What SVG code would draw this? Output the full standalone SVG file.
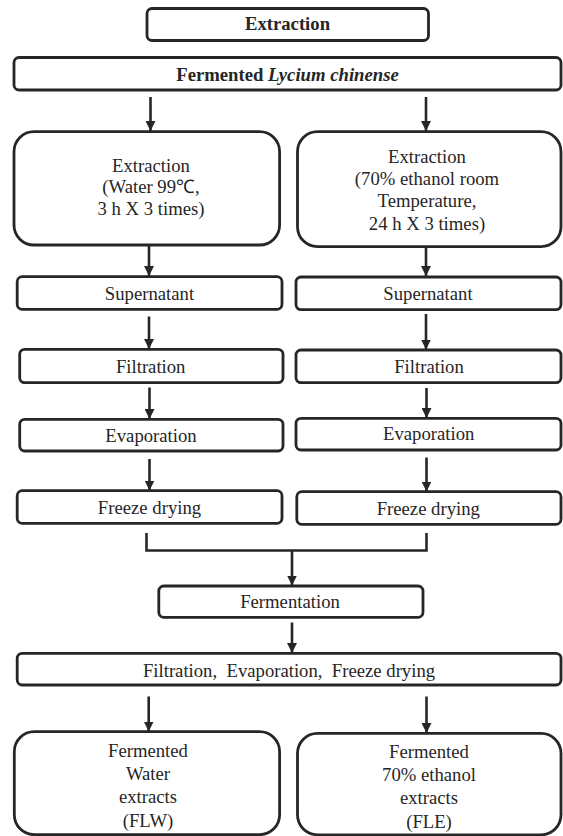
<svg xmlns="http://www.w3.org/2000/svg" width="563" height="836" viewBox="0 0 563 836" font-family="Liberation Serif, Times New Roman, DejaVu Serif, serif">
<defs>
<style>
.box{fill:#fff;stroke:#262626;stroke-width:2.8}
.t{font-size:18.7px;fill:#262626;text-anchor:middle}
.b{font-weight:bold}
.c{fill:none;stroke:#262626;stroke-width:2.6}
</style>
<marker id="ah" markerUnits="userSpaceOnUse" markerWidth="12" markerHeight="10" refX="10" refY="5" orient="auto">
<path d="M0,0 L10,5 L0,10 Z" fill="#262626"/>
</marker>
</defs>

<g id="connectors">
<line class="c" x1="150.5" y1="97" x2="150.5" y2="131" marker-end="url(#ah)"/>
<line class="c" x1="426" y1="97" x2="426" y2="131" marker-end="url(#ah)"/>
<line class="c" x1="149" y1="245" x2="149" y2="276" marker-end="url(#ah)"/>
<line class="c" x1="426" y1="248" x2="426" y2="276" marker-end="url(#ah)"/>
<line class="c" x1="149" y1="316.5" x2="149" y2="349" marker-end="url(#ah)"/>
<line class="c" x1="426" y1="314" x2="426" y2="349.5" marker-end="url(#ah)"/>
<line class="c" x1="149.5" y1="387.5" x2="149.5" y2="419" marker-end="url(#ah)"/>
<line class="c" x1="426.5" y1="388" x2="426.5" y2="418" marker-end="url(#ah)"/>
<line class="c" x1="149.5" y1="459" x2="149.5" y2="490.5" marker-end="url(#ah)"/>
<line class="c" x1="426.5" y1="457.5" x2="426.5" y2="491.5" marker-end="url(#ah)"/>
<path class="c" d="M146.5,533 V550.5 H426.5 V533"/>
<line class="c" x1="292" y1="551" x2="292" y2="585.5" marker-end="url(#ah)"/>
<line class="c" x1="292" y1="622.5" x2="292" y2="653" marker-end="url(#ah)"/>
<line class="c" x1="148.7" y1="696.5" x2="148.7" y2="731.5" marker-end="url(#ah)"/>
<line class="c" x1="426.5" y1="696.5" x2="426.5" y2="733" marker-end="url(#ah)"/>
</g>

<g id="n-extraction-title">
<rect class="box" x="147" y="8.5" width="281.5" height="32" rx="5"/>
<text class="t b" x="287.5" y="30" font-family="Liberation Serif, serif">Extraction</text>
</g>

<g id="n-fermented-lycium">
<rect class="box" x="14" y="57.5" width="547" height="32.5" rx="5"/>
<text class="t b" x="287.5" y="80.5" font-family="Liberation Serif, serif">Fermented <tspan font-style="italic">Lycium chinense</tspan></text>
</g>

<g id="n-extraction-water">
<rect class="box" x="14" y="131.7" width="265.6" height="113.3" rx="20"/>
<text class="t" x="151" y="171.7" font-family="Liberation Serif, serif">Extraction</text>
<text class="t" x="151" y="193.3" font-family="Liberation Serif, serif">(Water 99℃,</text>
<text class="t" x="151" y="215" font-family="Liberation Serif, serif">3 h X 3 times)</text>
</g>

<g id="n-extraction-ethanol">
<rect class="box" x="297.5" y="131.7" width="263.5" height="115" rx="20"/>
<text class="t" x="427" y="163.3" font-family="Liberation Serif, serif">Extraction</text>
<text class="t" x="427" y="185" font-family="Liberation Serif, serif">(70% ethanol room</text>
<text class="t" x="427" y="206.7" font-family="Liberation Serif, serif">Temperature,</text>
<text class="t" x="427" y="230" font-family="Liberation Serif, serif">24 h X 3 times)</text>
</g>

<g id="n-supernatant-left">
<rect class="box" x="17.2" y="276.7" width="264.8" height="32.6" rx="5"/>
<text class="t" x="149.5" y="300" font-family="Liberation Serif, serif">Supernatant</text>
</g>
<g id="n-supernatant-right">
<rect class="box" x="296" y="277" width="265" height="32.6" rx="5"/>
<text class="t" x="428" y="300" font-family="Liberation Serif, serif">Supernatant</text>
</g>

<g id="n-filtration-left">
<rect class="box" x="19.7" y="349.3" width="263.3" height="33.4" rx="5"/>
<text class="t" x="150.7" y="372.7" font-family="Liberation Serif, serif">Filtration</text>
</g>
<g id="n-filtration-right">
<rect class="box" x="296" y="350" width="265" height="32.7" rx="5"/>
<text class="t" x="429" y="372.7" font-family="Liberation Serif, serif">Filtration</text>
</g>

<g id="n-evaporation-left">
<rect class="box" x="19.7" y="419.3" width="263.3" height="31.7" rx="5"/>
<text class="t" x="151" y="441.7" font-family="Liberation Serif, serif">Evaporation</text>
</g>
<g id="n-evaporation-right">
<rect class="box" x="296" y="418.3" width="265" height="31.7" rx="5"/>
<text class="t" x="428.7" y="440" font-family="Liberation Serif, serif">Evaporation</text>
</g>

<g id="n-freeze-left">
<rect class="box" x="17.2" y="490.7" width="264.8" height="32.6" rx="5"/>
<text class="t" x="149.5" y="514" font-family="Liberation Serif, serif">Freeze drying</text>
</g>
<g id="n-freeze-right">
<rect class="box" x="296.8" y="491.7" width="264.2" height="32.6" rx="5"/>
<text class="t" x="428.3" y="514.5" font-family="Liberation Serif, serif">Freeze drying</text>
</g>

<g id="n-fermentation">
<rect class="box" x="158.8" y="586" width="264.2" height="31.3" rx="5"/>
<text class="t" x="290" y="608.3" font-family="Liberation Serif, serif">Fermentation</text>
</g>

<g id="n-filt-evap-freeze">
<rect class="box" x="17.2" y="653.3" width="543.8" height="31.7" rx="5"/>
<text class="t" x="289" y="676.7" xml:space="preserve" font-family="Liberation Serif, serif">Filtration,  Evaporation,  Freeze drying</text>
</g>

<g id="n-flw">
<rect class="box" x="14.3" y="731.7" width="265.3" height="103" rx="20"/>
<text class="t" x="148" y="756.7" font-family="Liberation Serif, serif">Fermented</text>
<text class="t" x="148" y="780" font-family="Liberation Serif, serif">Water</text>
<text class="t" x="148" y="803.3" font-family="Liberation Serif, serif">extracts</text>
<text class="t" x="148" y="826.7" font-family="Liberation Serif, serif">(FLW)</text>
</g>

<g id="n-fle">
<rect class="box" x="297.5" y="733.3" width="263.5" height="101.5" rx="20"/>
<text class="t" x="429" y="757.7" font-family="Liberation Serif, serif">Fermented</text>
<text class="t" x="429" y="781" font-family="Liberation Serif, serif">70% ethanol</text>
<text class="t" x="429" y="804.3" font-family="Liberation Serif, serif">extracts</text>
<text class="t" x="429" y="827.7" font-family="Liberation Serif, serif">(FLE)</text>
</g>
</svg>
